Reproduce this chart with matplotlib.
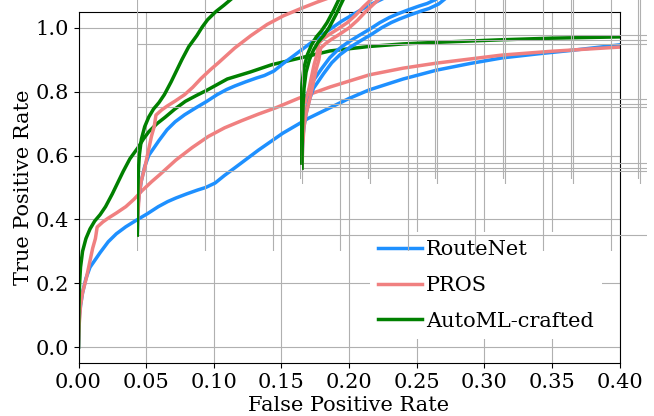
import numpy as np
import matplotlib
matplotlib.use('Agg')
from matplotlib import pyplot as plt
from matplotlib.ticker import MultipleLocator, FormatStrFormatter

# ROC curves (false positive rate, true positive rate)
routenet_fpr = [0, 0.0003, 0.0007, 0.0015, 0.003, 0.0055, 0.0085, 0.0126, 0.016, 0.022,
                0.028, 0.035, 0.043, 0.051, 0.059, 0.066, 0.072, 0.080, 0.088, 0.094,
                0.101, 0.108, 0.116, 0.133, 0.151, 0.170, 0.186, 0.200, 0.215, 0.240,
                0.265, 0.290, 0.313, 0.340, 0.363, 0.4]
routenet_tpr = [0, 0.06, 0.10, 0.13, 0.17, 0.215, 0.25, 0.275, 0.296, 0.33,
                0.355, 0.377, 0.398, 0.418, 0.44, 0.456, 0.467, 0.48, 0.492, 0.50,
                0.514, 0.538, 0.563, 0.617, 0.67, 0.717, 0.75, 0.779, 0.806, 0.84,
                0.868, 0.889, 0.906, 0.919, 0.929, 0.947]

pros_fpr = [0, 0.0005, 0.0015, 0.003, 0.006, 0.0085, 0.0105, 0.0125, 0.0138, 0.018,
            0.022, 0.028, 0.035, 0.041, 0.047, 0.054, 0.060, 0.066, 0.072, 0.084,
            0.096, 0.108, 0.121, 0.133, 0.146, 0.163, 0.186, 0.215, 0.240, 0.265,
            0.290, 0.313, 0.350, 0.4]
pros_tpr = [0, 0.07, 0.13, 0.17, 0.22, 0.27, 0.31, 0.34, 0.376, 0.392,
            0.404, 0.42, 0.44, 0.463, 0.49, 0.518, 0.54, 0.563, 0.586, 0.625,
            0.66, 0.687, 0.71, 0.73, 0.75, 0.78, 0.815, 0.853, 0.874, 0.89,
            0.903, 0.915, 0.927, 0.94]

automl_fpr = [0, 0.0003, 0.0008, 0.0015, 0.003, 0.0055, 0.0085, 0.012, 0.016, 0.020,
              0.025, 0.029, 0.033, 0.038, 0.044, 0.048, 0.052, 0.058, 0.064, 0.071,
              0.079, 0.087, 0.095, 0.11, 0.127, 0.143, 0.163, 0.186, 0.215, 0.240,
              0.265, 0.313, 0.350, 0.4]
automl_tpr = [0, 0.12, 0.2, 0.25, 0.3, 0.34, 0.37, 0.395, 0.415, 0.44,
              0.48, 0.515, 0.55, 0.59, 0.625, 0.652, 0.675, 0.70, 0.72, 0.745,
              0.77, 0.788, 0.805, 0.84, 0.862, 0.885, 0.905, 0.928, 0.942, 0.95,
              0.955, 0.963, 0.968, 0.972]

series = [
    ('RouteNet', routenet_fpr, routenet_tpr, 'dodgerblue'),
    ('PROS', pros_fpr, pros_tpr, 'lightcoral'),
    ('AutoML-crafted', automl_fpr, automl_tpr, 'green'),
]

plt.rcParams['font.family'] = 'serif'
plt.rcParams['font.size'] = 15

W, H = 654, 416
# main axes box, pixels
x0_px, x1_px = 78.5, 619.5
top_px, bot_px = 12, 363
xlim = (0, 0.4)
ylim = (-0.05, 1.05)
px_x = (x1_px - x0_px) / (xlim[1] - xlim[0])
px_y = (bot_px - top_px) / (ylim[1] - ylim[0])

# the picture has stray shifted copies of the plot (grid + curves only)
ghost_shift = [(58.8, 112), (221.5, 184), (223.5, 179)]
ghost_right = 647

grid_kw = dict(color='#b0b0b0', linewidth=0.8)


def draw_curves(ax, with_label=False):
    for name, fpr, tpr, col in series:
        ax.plot(fpr, tpr, color=col, lw=2.5, solid_joinstyle='round',
                label=name if with_label else None)


fig = plt.figure(figsize=(W / 100, H / 100), dpi=100)

ax = fig.add_axes([x0_px / W, 1 - bot_px / H, (x1_px - x0_px) / W, (bot_px - top_px) / H],
                  zorder=1)
draw_curves(ax, True)
ax.set_xlim(*xlim)
ax.set_ylim(*ylim)
ax.xaxis.set_major_locator(MultipleLocator(0.05))
ax.yaxis.set_major_locator(MultipleLocator(0.2))
ax.xaxis.set_major_formatter(FormatStrFormatter('%.2f'))
ax.yaxis.set_major_formatter(FormatStrFormatter('%.1f'))
ax.grid(True, **grid_kw)
ax.set_axisbelow(True)
ax.set_xlabel('False Positive Rate', labelpad=3)
ax.set_ylabel('True Positive Rate', labelpad=1.5)

ax.legend(loc='upper left', bbox_to_anchor=(370 / W, 1 - 232 / H),
          bbox_transform=fig.transFigure, borderaxespad=0, fancybox=False,
          edgecolor='none', facecolor='white', framealpha=1, fontsize=15,
          handlelength=2.1, handletextpad=0.2, labelspacing=0.8)

for i, (dx, dy) in enumerate(ghost_shift):
    left = x0_px + dx
    bottom = bot_px - dy
    gx = fig.add_axes([left / W, 1 - bottom / H, (ghost_right - left) / W, bottom / H],
                      zorder=2 + i)
    gx.patch.set_facecolor('none')
    gx.set_frame_on(False)
    draw_curves(gx)
    gx.set_xlim(0, (ghost_right - left) / px_x)
    gx.set_ylim(ylim[0], ylim[0] + bottom / px_y)
    gx.xaxis.set_major_locator(MultipleLocator(0.05))
    gx.yaxis.set_major_locator(MultipleLocator(0.2))
    gx.tick_params(length=0, labelbottom=False, labelleft=False)
    gx.grid(True, **grid_kw)
    gx.set_axisbelow(True)

plt.savefig('out.png', dpi=100)
